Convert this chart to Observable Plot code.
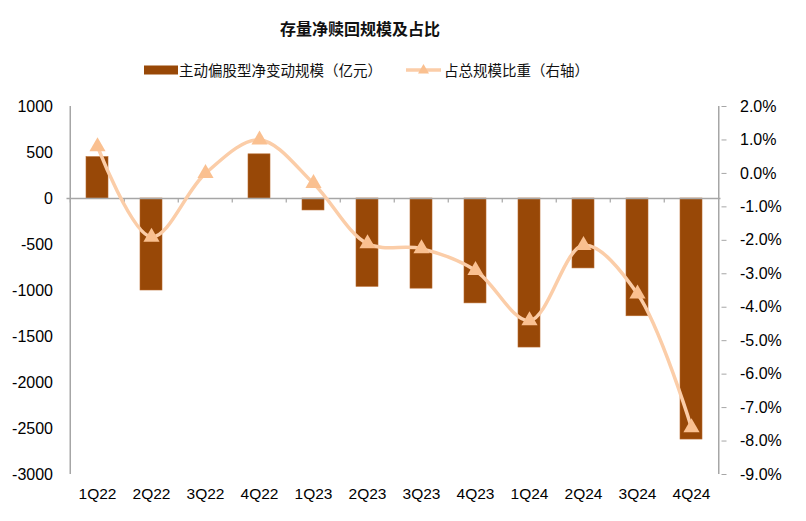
<!DOCTYPE html>
<html>
<head>
<meta charset="utf-8">
<script src="https://cdn.jsdelivr.net/npm/d3@7"></script>
<script src="https://cdn.jsdelivr.net/npm/@observablehq/plot@0.6"></script>
<style>
  html, body { margin: 0; padding: 0; background: #fff; }
  #wrap { position: relative; width: 806px; height: 521px; overflow: hidden; font-family: "Noto Sans CJK SC", "Liberation Sans", sans-serif; }
  #title { position: absolute; left: 0; width: 720px; top: 16px; text-align: center; font-size: 16px; font-weight: bold; color: #111; line-height: 24px; }
  .leg { position: absolute; top: 60px; font-size: 14.5px; line-height: 20px; color: #111; white-space: nowrap; }
  #chart { position: absolute; left: 0; top: 90px; }
</style>
</head>
<body>
<div id="wrap">
  <div id="title">存量净赎回规模及占比</div>
  <div class="leg" style="left:144px"><svg width="35" height="20" style="vertical-align:top"><rect x="0" y="5.5" width="34" height="9" fill="#984807"/></svg><span id="leg1"></span></div>
  <div class="leg" style="left:406px"><svg width="38" height="20" style="vertical-align:top"><line x1="0" x2="35" y1="10" y2="10" stroke="#FBCDA8" stroke-width="3.5"/><path d="M17.5,4 L23,13.5 L12,13.5 Z" fill="#FAC090"/></svg><span id="leg2"></span></div>
  <div id="chart"></div>
</div>
<script>
const quarters = ["1Q22","2Q22","3Q22","4Q22","1Q23","2Q23","3Q23","4Q23","1Q24","2Q24","3Q24","4Q24"];
const netChange = [450, -1000, 0, 480, -130, -960, -980, -1140, -1620, -760, -1280, -2620];
const shareOfTotal = [0.8, -1.9, 0.0, 1.0, -0.3, -2.1, -2.25, -2.9, -4.4, -2.15, -3.6, -7.6];
const leftTicks = [1000, 500, 0, -500, -1000, -1500, -2000, -2500, -3000];
const rightTicks = [2, 1, 0, -1, -2, -3, -4, -5, -6, -7, -8, -9];
const barLabel = "主动偏股型净变动规模（亿元）";
const lineLabel = "占总规模比重（右轴）";
const title = "存量净赎回规模及占比";

document.getElementById("title").textContent = title;
document.getElementById("leg1").textContent = barLabel;
document.getElementById("leg2").textContent = lineLabel;

const leftDomain = [-3000, 1000];
const rightDomain = [-9, 2];
const toLeft = p => leftDomain[0] + (p - rightDomain[0]) * (leftDomain[1] - leftDomain[0]) / (rightDomain[1] - rightDomain[0]);
const fromLeft = v => rightDomain[0] + (v - leftDomain[0]) * (rightDomain[1] - rightDomain[0]) / (leftDomain[1] - leftDomain[0]);

const bars = quarters.map((q, i) => ({q, v: netChange[i]}));
const pts = quarters.map((q, i) => ({q, p: shareOfTotal[i], y: toLeft(shareOfTotal[i])}));

const W = 806, H = 431;
const mL = 66.5, mR = 85.5, mT = 16, mB = 47;
const step = (W - mL - mR) / quarters.length;
const axisColor = "#A6A6A6";

const chart = Plot.plot({
  width: W,
  height: H,
  marginLeft: mL,
  marginRight: mR,
  marginTop: mT,
  marginBottom: mB,
  style: {fontFamily: "'Liberation Sans', Arial, sans-serif", fontSize: "15px", color: "#000", background: "#fff"},
  x: {type: "band", domain: quarters, paddingInner: 0.6, paddingOuter: 0.3},
  y: {domain: leftDomain},
  marks: [
    Plot.barY(bars, {x: "q", y: "v", fill: "#984807", stroke: "#B86A2E", strokeWidth: 0.6}),
    Plot.ruleY([0], {stroke: axisColor, strokeWidth: 1.5}),
    Plot.ruleX(quarters, {x: d => d, dx: -step / 2, y1: 0, y2: -48, stroke: axisColor, strokeWidth: 1.2}),
    Plot.ruleX([quarters[0]], {x: d => d, dx: -step / 2, y1: leftDomain[0], y2: leftDomain[1], stroke: axisColor, strokeWidth: 1.5}),
    Plot.ruleX([quarters[quarters.length - 1]], {x: d => d, dx: step / 2, y1: leftDomain[0], y2: leftDomain[1], stroke: axisColor, strokeWidth: 1.5}),
    Plot.line(pts, {x: "q", y: "y", curve: "catmull-rom", stroke: "#FBCDA8", strokeWidth: 3.5}),
    Plot.dot(pts, {x: "q", y: "y", symbol: "triangle", r: 6, fill: "#FAC090", stroke: "none"}),
    Plot.axisY({anchor: "left", ticks: leftTicks, tickSize: 0, tickPadding: 14, tickFormat: d => String(d), fontSize: 16}),
    Plot.axisY({anchor: "right", ticks: rightTicks.map(toLeft), tickSize: 5, tickPadding: 14, stroke: axisColor, tickFormat: v => fromLeft(v).toFixed(1) + "%", fontSize: 16, fill: "#000"}),
    Plot.axisX({anchor: "bottom", tickSize: 0, tickPadding: 13, fontSize: 15.5, label: null})
  ]
});
document.getElementById("chart").appendChild(chart);
</script>
</body>
</html>
